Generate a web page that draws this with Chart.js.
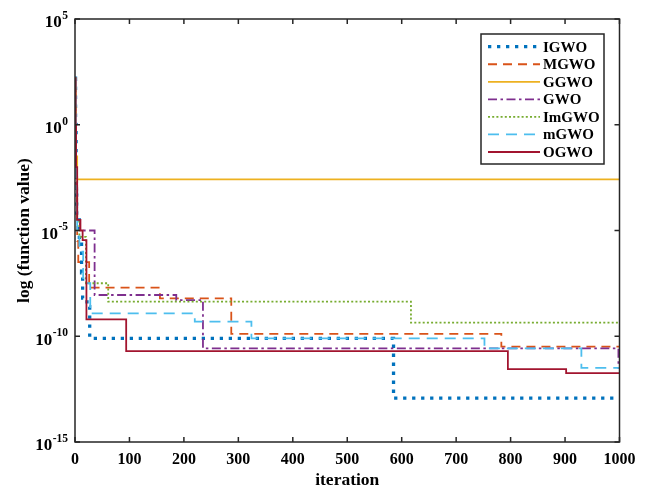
<!DOCTYPE html>
<html><head><meta charset="utf-8">
<script src="https://cdn.jsdelivr.net/npm/chart.js@4.4.0/dist/chart.umd.min.js"></script>
<style>html,body{margin:0;padding:0;background:#fff;} #wrap{width:646px;height:489px;}</style>
</head><body><div id="wrap"><canvas id="c" width="646" height="489"></canvas></div>
<script>
const seriesNames = ['IGWO','MGWO','GGWO','GWO','ImGWO','mGWO','OGWO'];
const xTickValues = [0,100,200,300,400,500,600,700,800,900,1000];
const yTickValues = [1e5,1e0,1e-5,1e-10,1e-15];
const yTickBase = '10';
const yTickExponents = ['5','0','-5','-10','-15'];

const igwoIter = [0,1,2,3,8,12,14,22,27,585,1000];
const igwoVal  = [1.6e2,1,1e-3,3.2e-5,3.2e-6,1e-7,6.3e-9,2.5e-9,7.9e-11,1.2e-13,1.2e-13];
const mgwoIter = [0,1,2,4,6,26,156,287,783,1000];
const mgwoVal  = [1.6e2,0.1,1e-3,3.2e-6,3.2e-7,2.0e-8,6.2e-9,1.3e-10,3.2e-11,3.2e-11];
const ggwoIter = [0,1,2,4,1000];
const ggwoVal  = [1.6e2,1,3.2e-2,2.6e-3,2.6e-3];
const gwoIter  = [0,1,2,4,9,36,186,235,998,1000];
const gwoVal   = [1.6e2,0.1,1e-3,3.2e-5,1e-5,8.9e-9,5.1e-9,2.7e-11,3.2e-12,3.2e-12];
const imgwoIter = [0,1,2,4,8,20,61,617,1000];
const imgwoVal  = [1.6e2,0.1,3.2e-3,3.2e-5,5e-6,3.2e-8,4.3e-9,4.4e-10,4.4e-10];
const mgwo2Iter = [0,1,2,4,8,15,28,220,324,752,930,1000];
const mgwo2Val  = [1.6e2,0.1,1e-3,1e-5,1e-6,3.2e-8,1.2e-9,4.9e-10,7.9e-11,2.7e-11,3.2e-12,3.2e-12];
const ogwoIter = [0,1,2,4,10,14,21,94,795,902,1000];
const ogwoVal  = [1.6e2,1,1e-2,3.2e-5,1e-5,3.5e-6,6.3e-10,2e-11,2.8e-12,1.8e-12,1.8e-12];

const iters = [igwoIter,mgwoIter,ggwoIter,gwoIter,imgwoIter,mgwo2Iter,ogwoIter];
const vals  = [igwoVal,mgwoVal,ggwoVal,gwoVal,imgwoVal,mgwo2Val,ogwoVal];
const colors = ['#0072BD','#D95319','#EDB120','#7E2F8E','#77AC30','#4DBEEE','#A2142F'];
const widths = [3.3,1.8,1.8,1.8,1.8,1.8,1.8];
const dashes = [[3.3,5.7],[9,6],[],[9,3.5,2.5,3.5],[2,2.2],[11,7],[]];

const FONT = "'Liberation Serif','Times New Roman',serif";
const AX = '#262626';

const datasets = seriesNames.map((n,i)=>({
  label:n,
  data: iters[i].map((x,j)=>({x:x,y:vals[i][j]})),
  borderColor: colors[i],
  borderWidth: widths[i],
  borderDash: dashes[i],
  borderCapStyle:'butt',
  pointRadius:0,
  fill:false,
  stepped:'before',
  order: seriesNames.length - i
}));

const boxPlugin = {
  id:'box',
  afterDraw(chart){
    const ctx = chart.ctx, a = chart.chartArea;
    const xs = chart.scales.x, ys = chart.scales.y;
    ctx.save();
    ctx.strokeStyle = AX; ctx.lineWidth = 1.5; ctx.setLineDash([]);
    ctx.strokeRect(a.left, a.top, a.right-a.left, a.bottom-a.top);
    ctx.beginPath();
    xTickValues.forEach(v=>{
      const px = xs.getPixelForValue(v);
      ctx.moveTo(px,a.bottom); ctx.lineTo(px,a.bottom-5);
      ctx.moveTo(px,a.top); ctx.lineTo(px,a.top+5);
    });
    yTickValues.forEach(v=>{
      const py = ys.getPixelForValue(v);
      ctx.moveTo(a.left,py); ctx.lineTo(a.left+5,py);
      ctx.moveTo(a.right,py); ctx.lineTo(a.right-5,py);
    });
    ctx.stroke();
    // y tick labels with superscript exponents
    ctx.fillStyle = '#000'; ctx.textBaseline = 'middle'; ctx.textAlign = 'right';
    yTickValues.forEach((v,k)=>{
      const py = ys.getPixelForValue(v);
      const rx = a.left - 7;
      ctx.font = "bold 11.5px " + FONT;
      const ew = ctx.measureText(yTickExponents[k]).width;
      ctx.fillText(yTickExponents[k], rx, py - 3);
      ctx.font = "bold 17px " + FONT;
      ctx.fillText(yTickBase, rx - ew - 0.5, py + 4);
    });
    // legend
    const lx=481, ly=34, lw=123, lh=130;
    ctx.fillStyle='#fff'; ctx.fillRect(lx,ly,lw,lh);
    ctx.strokeStyle=AX; ctx.lineWidth=1.5; ctx.strokeRect(lx,ly,lw,lh);
    ctx.font = "bold 15px " + FONT;
    ctx.textBaseline='middle'; ctx.textAlign='left';
    seriesNames.forEach((n,i)=>{
      const y = 46.7 + i*17.55;
      ctx.beginPath();
      ctx.strokeStyle = colors[i]; ctx.lineWidth = widths[i];
      ctx.setLineDash(dashes[i]); ctx.lineCap='butt';
      ctx.moveTo(488,y); ctx.lineTo(540,y); ctx.stroke();
      ctx.setLineDash([]);
      ctx.fillStyle='#000';
      ctx.fillText(n,543,y+1);
    });
    ctx.restore();
  }
};

new Chart(document.getElementById('c'),{
  type:'line',
  data:{datasets},
  options:{
    responsive:false, animation:false,
    layout:{padding:{top:19,right:26.5,left:0,bottom:0}},
    plugins:{legend:{display:false},tooltip:{enabled:false}},
    scales:{
      x:{type:'linear',min:0,max:1000,
        grid:{display:false,drawTicks:false},border:{display:false},
        afterBuildTicks(s){s.ticks = xTickValues.map(v=>({value:v}));},
        afterFit(s){s.height=47;},
        ticks:{color:'#000',padding:8,maxRotation:0,autoSkip:false,font:{family:FONT,size:16,weight:'bold'},callback:v=>String(v)},
        title:{display:true,text:'iteration',color:'#000',padding:{top:0,bottom:0},font:{family:FONT,size:17.5,weight:'bold',lineHeight:1}}
      },
      y:{type:'logarithmic',min:1e-15,max:1e5,
        grid:{display:false,drawTicks:false},border:{display:false},
        afterBuildTicks(s){s.ticks = yTickValues.map(v=>({value:v}));},
        afterFit(s){s.width=75;},
        ticks:{display:false},
        title:{display:true,text:'log (function value)',color:'#000',padding:{top:15.5,bottom:0},font:{family:FONT,size:17.5,weight:'bold',lineHeight:1}}
      }
    }
  },
  plugins:[boxPlugin]
});
</script></body></html>
